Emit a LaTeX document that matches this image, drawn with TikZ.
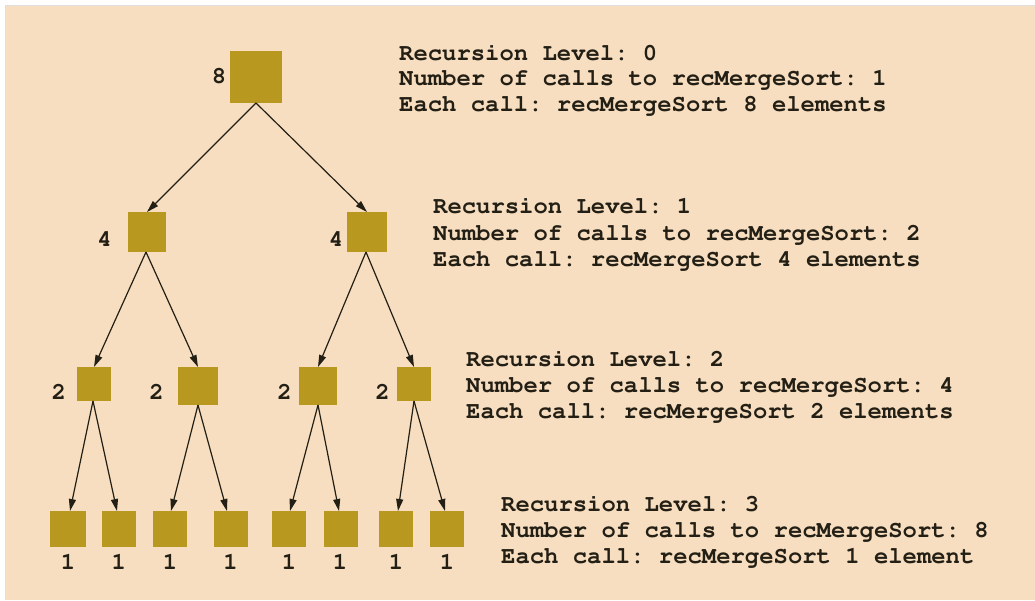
\documentclass[tikz,border=0pt]{standalone}
\usepackage[T1]{fontenc}
\usetikzlibrary{arrows.meta}
\definecolor{bgbeige}{HTML}{F7DEC0}
\definecolor{boxgold}{HTML}{B8981E}
\definecolor{inkdark}{HTML}{231F15}
\newcommand{\courfont}{\fontencoding{T1}\fontfamily{pcr}\fontseries{b}\fontsize{23.9}{25.5}\selectfont\frenchspacing}
\frenchspacing
\tikzset{
  sq/.style={rectangle, fill=boxgold, inner sep=0pt, outer sep=0pt},
  num/.style={anchor=base, inner sep=0pt, text=inkdark, font=\courfont},
  info/.style={anchor=base west, inner sep=0pt, text=inkdark, font=\courfont},
  arr/.style={draw=inkdark, line width=1.2pt, -{Triangle[length=12pt,width=7pt]}}
}
\begin{document}
\begin{tikzpicture}[x=1pt,y=-1pt]
\useasboundingbox (0,0) rectangle (1035,600);
\fill[white] (0,0) rectangle (1035,600);
\fill[bgbeige] (5,5) rectangle (1035,600);
\draw[gray!25, line width=0.5pt] (5,600) -- (5,5) -- (1035,5);

% boxes
\node[sq, minimum width=52pt, minimum height=52pt] (r) at (256,77) {};
\node[sq, minimum width=38pt, minimum height=40pt] (a) at (147,232) {};
\node[sq, minimum width=40pt, minimum height=40pt] (b) at (367,232) {};
\node[sq, minimum width=34pt, minimum height=34pt] (aa) at (94,384) {};
\node[sq, minimum width=40pt, minimum height=38pt] (ab) at (198,386) {};
\node[sq, minimum width=38pt, minimum height=38pt] (ba) at (318,386) {};
\node[sq, minimum width=34pt, minimum height=34pt] (bb) at (414,384) {};
\node[sq, minimum width=36pt, minimum height=36pt] (l1) at (68,529) {};
\node[sq, minimum width=34pt, minimum height=36pt] (l2) at (119,529) {};
\node[sq, minimum width=34pt, minimum height=36pt] (l3) at (170,529) {};
\node[sq, minimum width=34pt, minimum height=36pt] (l4) at (231,529) {};
\node[sq, minimum width=34pt, minimum height=36pt] (l5) at (289,529) {};
\node[sq, minimum width=34pt, minimum height=36pt] (l6) at (341,529) {};
\node[sq, minimum width=34pt, minimum height=36pt] (l7) at (396,529) {};
\node[sq, minimum width=34pt, minimum height=36pt] (l8) at (447,529) {};

% size labels
\node[num] (nr) at (219,83) {8};
\node[num] (na) at (104.5,246) {4};
\node[num] (nb) at (336,246) {4};
\node[num] (naa) at (58.7,399) {2};
\node[num] (nab) at (156.5,399) {2};
\node[num] (nba) at (284.5,399) {2};
\node[num] (nbb) at (382.5,399) {2};
\node[num] (n1) at (68,569) {1};
\node[num] (n2) at (118.7,569) {1};
\node[num] (n3) at (170,569) {1};
\node[num] (n4) at (230.5,569) {1};
\node[num] (n5) at (289,569) {1};
\node[num] (n6) at (340,569) {1};
\node[num] (n7) at (396,569) {1};
\node[num] (n8) at (447,569) {1};

% connectors
\draw[arr] (r.south) -- (a.north);
\draw[arr] (r.south) -- (b.north);
\draw[arr] ([xshift=-1pt]a.south) -- (aa.north);
\draw[arr] ([xshift=-1pt]a.south) -- (ab.north);
\draw[arr] ([xshift=-1pt]b.south) -- (ba.north);
\draw[arr] ([xshift=-1pt]b.south) -- (bb.north);
\draw[arr] ([xshift=-1pt]aa.south) -- ([xshift=2pt]l1.north);
\draw[arr] ([xshift=-1pt]aa.south) -- ([xshift=-2pt]l2.north);
\draw[arr] (ab.south) -- ([xshift=1pt]l3.north);
\draw[arr] (ab.south) -- ([xshift=-4pt]l4.north);
\draw[arr] (ba.south) -- ([xshift=1pt]l5.north);
\draw[arr] (ba.south) -- ([xshift=-2pt]l6.north);
\draw[arr] (bb.south) -- ([xshift=2pt]l7.north);
\draw[arr] (bb.south) -- ([xshift=-2pt]l8.north);

% info texts
\node[info] (t0a) at (399,60) {Recursion Level: 0};
\node[info] (t0b) at (399,85.5) {Number of calls to recMergeSort: 1};
\node[info] (t0c) at (399,111) {Each call: recMergeSort 8 elements};
\node[info] (t1a) at (433,213.5) {Recursion Level: 1};
\node[info] (t1b) at (433,240) {Number of calls to recMergeSort: 2};
\node[info] (t1c) at (433,266) {Each call: recMergeSort 4 elements};
\node[info] (t2a) at (466,366) {Recursion Level: 2};
\node[info] (t2b) at (466,392) {Number of calls to recMergeSort: 4};
\node[info] (t2c) at (466,418) {Each call: recMergeSort 2 elements};
\node[info] (t3a) at (501,511) {Recursion Level: 3};
\node[info] (t3b) at (501,537) {Number of calls to recMergeSort: 8};
\node[info] (t3c) at (501,563) {Each call: recMergeSort 1 element};
\end{tikzpicture}
\end{document}
